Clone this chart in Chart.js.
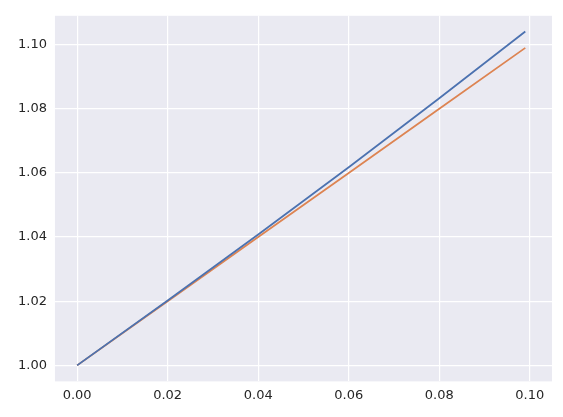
<!DOCTYPE html>
<html>
<head>
<meta charset="utf-8">
<script src="https://cdn.jsdelivr.net/npm/chart.js@4"></script>
<style>body{margin:0;background:#fff;}</style>
</head>
<body>
<canvas id="c" width="563" height="417"></canvas>
<script>
const xs = [0, 0.02, 0.04, 0.06, 0.08, 0.099];
const blueVals = [1.0, 1.0202, 1.0408, 1.0618, 1.0833, 1.1041];
const orangeVals = [1.0, 1.02, 1.04, 1.06, 1.08, 1.099];
const xTicks = [0, 0.02, 0.04, 0.06, 0.08, 0.10];
const yTicks = [1.00, 1.02, 1.04, 1.06, 1.08, 1.10];

const bgPlugin = {
    id: 'bg',
    beforeDraw(chart) {
        const a = chart.chartArea, ctx = chart.ctx;
        ctx.save();
        ctx.fillStyle = '#eaeaf2';
        ctx.fillRect(a.left, a.top, a.right - a.left, a.bottom - a.top);
        ctx.restore();
    }
};

Chart.defaults.font.family = 'DejaVu Sans';
Chart.defaults.font.size = 13;
Chart.defaults.color = '#262626';

new Chart(document.getElementById('c'), {
    type: 'line',
    data: {
        datasets: [{
            data: xs.map((x, i) => ({ x: x, y: blueVals[i] })),
            borderColor: '#4c72b0',
            borderWidth: 1.8,
            pointRadius: 0,
            fill: false
        }, {
            data: xs.map((x, i) => ({ x: x, y: orangeVals[i] })),
            borderColor: '#dd8452',
            borderWidth: 1.8,
            pointRadius: 0,
            fill: false
        }]
    },
    options: {
        responsive: false,
        animation: false,
        layout: { padding: { left: 10, top: 5, right: 11, bottom: 8 } },
        plugins: { legend: { display: false }, tooltip: { enabled: false } },
        scales: {
            x: {
                type: 'linear',
                min: -0.0049,
                max: 0.1049,
                afterBuildTicks: axis => { axis.ticks = xTicks.map(v => ({ value: v })); },
                ticks: { padding: 6, callback: v => v.toFixed(2) },
                grid: { color: '#ffffff', lineWidth: 1.2, drawTicks: false },
                border: { display: false }
            },
            y: {
                min: 0.995,
                max: 1.109,
                afterBuildTicks: axis => { axis.ticks = yTicks.map(v => ({ value: v })); },
                ticks: { padding: 8, callback: v => v.toFixed(2) },
                grid: { color: '#ffffff', lineWidth: 1.2, drawTicks: false },
                border: { display: false }
            }
        }
    },
    plugins: [bgPlugin]
});
</script>
</body>
</html>
